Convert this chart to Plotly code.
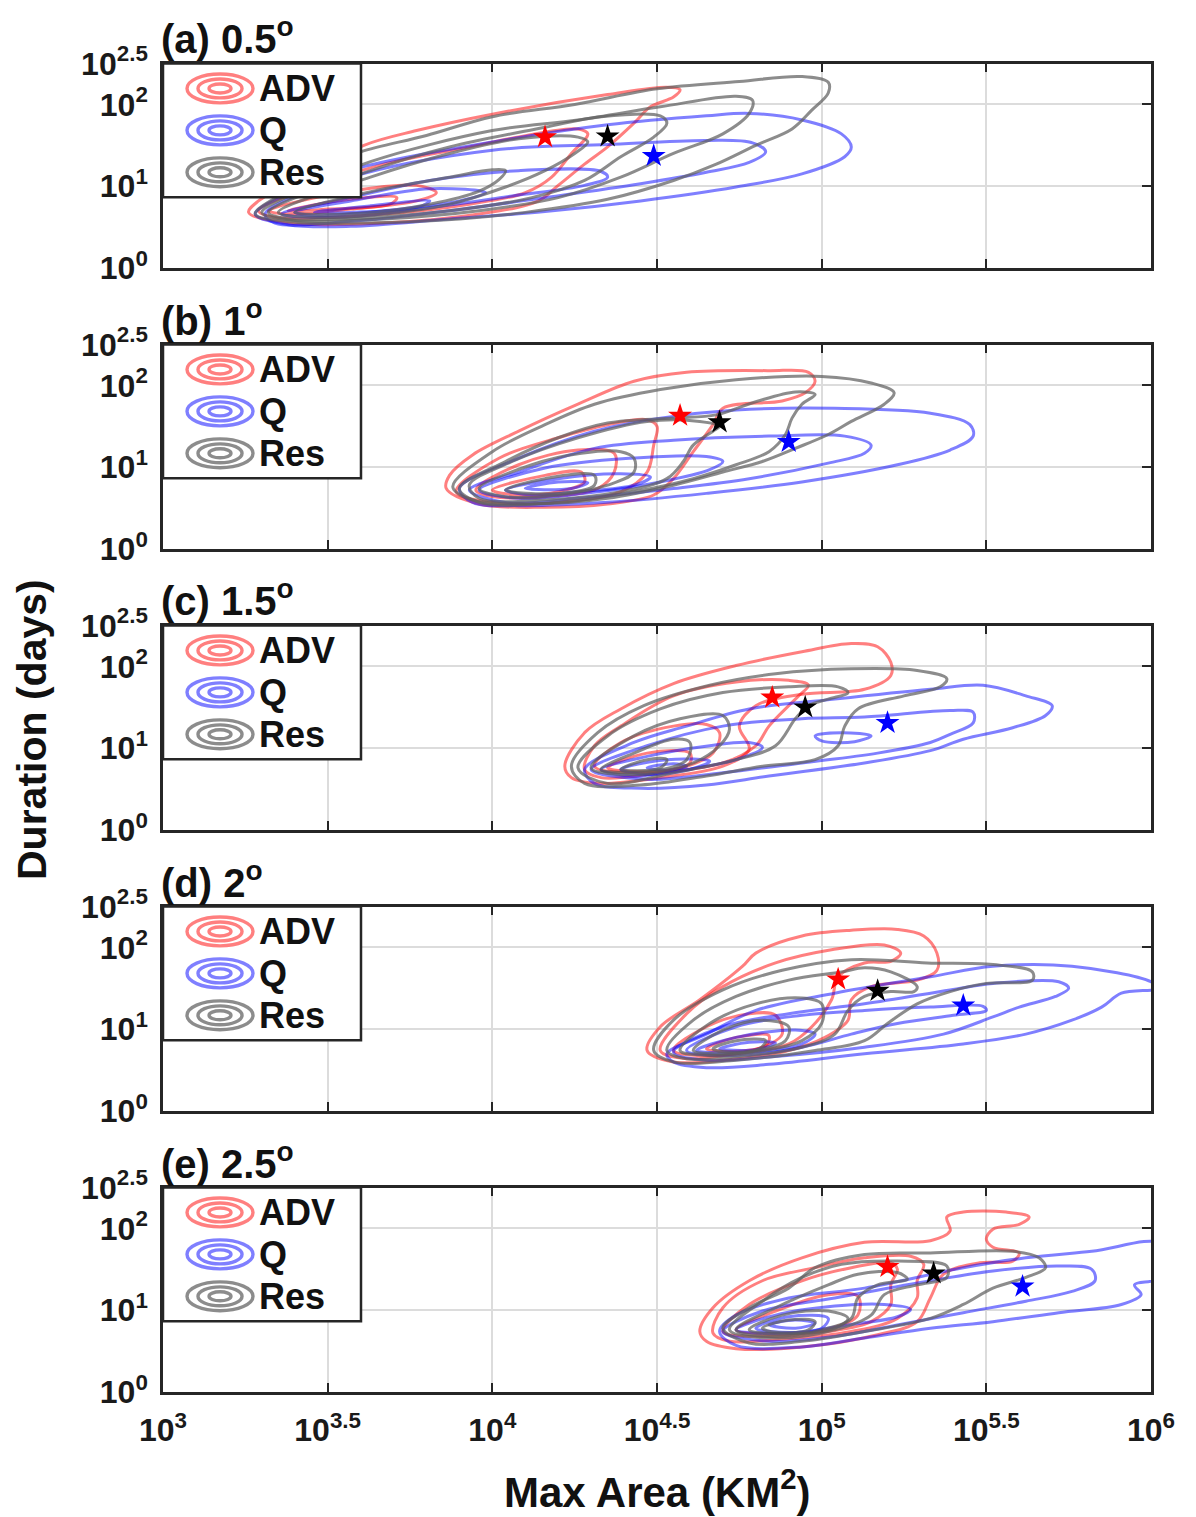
import plotly.graph_objects as go

# ---------------- tick / label data ----------------
X_TICK_EXP = [3, 3.5, 4, 4.5, 5, 5.5, 6]
X_TICK_TEXT = ["<b>10<sup>3</sup></b>", "<b>10<sup>3.5</sup></b>", "<b>10<sup>4</sup></b>",
               "<b>10<sup>4.5</sup></b>", "<b>10<sup>5</sup></b>", "<b>10<sup>5.5</sup></b>",
               "<b>10<sup>6</sup></b>"]
Y_TICK_EXP = [0, 1, 2, 2.5]
Y_TICK_TEXT = ["<b>10<sup>0</sup></b>", "<b>10<sup>1</sup></b>", "<b>10<sup>2</sup></b>",
               "<b>10<sup>2.5</sup></b>"]
PANEL_TITLES = ["(a) 0.5<sup>o</sup>", "(b) 1<sup>o</sup>", "(c) 1.5<sup>o</sup>",
                "(d) 2<sup>o</sup>", "(e) 2.5<sup>o</sup>"]
SERIES_NAMES = ["ADV", "Q", "Res"]

# ---------------- contour paths (log10 max area, log10 duration) ----------------
# panel (a) 0.5 deg
ADV_A = [
    [(3.26,0.68),(3.29,0.82),(3.42,1.11),(3.61,1.5),(3.77,1.68),(4.0,1.88),(4.35,2.12),(4.53,2.21),
     (4.57,2.18),(4.55,2.09),(4.48,1.97),(4.43,1.77),(4.35,1.48),(4.28,1.27),(4.2,1.01),(4.14,0.82),
     (3.96,0.66),(3.67,0.55),(3.38,0.55)],
    [(3.29,0.7),(3.48,1.03),(3.67,1.27),(3.93,1.48),(4.16,1.66),(4.26,1.7),(4.29,1.64),(4.24,1.4),
     (4.18,1.11),(4.1,0.92),(3.93,0.78),(3.67,0.66),(3.34,0.62)],
    [(3.32,0.7),(3.57,0.94),(3.77,1.01),(3.83,0.92),(3.77,0.82),(3.57,0.72),(3.38,0.66)],
    [(3.38,0.7),(3.57,0.84),(3.71,0.86),(3.69,0.78),(3.5,0.72)],
]
Q_A = [
    [(3.28,0.66),(3.4,0.95),(3.6,1.23),(4.0,1.54),(4.35,1.75),(4.65,1.86),(4.78,1.89),(4.94,1.81),
     (5.06,1.64),(5.09,1.48),(5.07,1.36),(4.94,1.15),(4.74,0.99),(4.45,0.82),(4.16,0.69),(3.87,0.6),
     (3.57,0.51),(3.38,0.53)],
    [(3.31,0.66),(3.57,1.11),(4.0,1.44),(4.35,1.51),(4.65,1.56),(4.79,1.53),(4.83,1.42),(4.78,1.29),
     (4.65,1.17),(4.45,1.03),(4.16,0.86),(3.87,0.7),(3.57,0.57),(3.34,0.55)],
    [(3.36,0.66),(3.57,0.86),(3.81,1.07),(4.08,1.19),(4.33,1.18),(4.35,1.11),(4.28,1.01),(4.06,0.88),
     (3.81,0.74),(3.54,0.62)],
    [(3.4,0.68),(3.57,0.82),(3.81,0.97),(3.98,0.92),(3.9,0.82),(3.67,0.7),(3.48,0.64)],
    [(3.46,0.68),(3.63,0.76),(3.81,0.82),(3.77,0.74),(3.57,0.68)],
]
RES_A = [
    [(3.28,0.66),(3.38,0.95),(3.5,1.25),(3.6,1.42),(3.8,1.62),(4.0,1.85),(4.25,2.0),(4.5,2.19),
     (4.75,2.28),(4.94,2.34),(5.02,2.27),(5.02,2.14),(4.97,1.93),(4.91,1.7),(4.8,1.5),(4.68,1.27),
     (4.55,1.07),(4.35,0.84),(4.1,0.68),(3.9,0.6),(3.6,0.55),(3.4,0.56)],
    [(3.3,0.68),(3.45,1.0),(3.63,1.3),(4.0,1.68),(4.26,1.81),(4.51,1.97),(4.74,2.1),(4.79,2.05),
     (4.78,1.89),(4.7,1.64),(4.55,1.4),(4.39,1.11),(4.2,0.86),(3.96,0.7),(3.67,0.6),(3.4,0.58)],
    [(3.32,0.68),(3.63,1.19),(3.87,1.48),(4.16,1.72),(4.33,1.85),(4.51,1.86),(4.53,1.77),(4.49,1.6),
     (4.39,1.36),(4.28,1.07),(4.12,0.86),(3.87,0.7),(3.55,0.6),(3.38,0.6)],
    [(3.35,0.68),(3.63,1.11),(3.87,1.4),(4.08,1.58),(4.26,1.6),(4.29,1.54),(4.25,1.4),(4.16,1.19),
     (4.04,0.99),(3.87,0.78),(3.67,0.66),(3.45,0.62)],
    [(3.4,0.68),(3.65,0.95),(3.87,1.11),(4.0,1.2),(4.04,1.19),(4.02,1.08),(3.96,0.94),(3.81,0.78),
     (3.6,0.67)],
]

# panel (b) 1 deg
ADV_B = [
    [(3.86,0.74),(3.87,0.9),(3.94,1.15),(4.08,1.44),(4.26,1.77),(4.43,2.05),(4.59,2.16),(4.84,2.18),
     (4.96,2.16),(4.98,2.05),(4.95,1.91),(4.88,1.81),(4.7,1.72),(4.67,1.52),(4.61,1.19),(4.55,0.86),
     (4.49,0.66),(4.35,0.55),(4.16,0.51),(3.96,0.55)],
    [(3.89,0.7),(4.02,1.11),(4.2,1.36),(4.35,1.52),(4.47,1.58),(4.5,1.5),(4.49,1.27),(4.47,0.94),
     (4.39,0.7),(4.2,0.57),(4.0,0.57)],
    [(3.95,0.72),(4.08,1.03),(4.26,1.21),(4.37,1.17),(4.37,0.94),(4.32,0.74),(4.16,0.64),(4.0,0.64)],
    [(4.0,0.72),(4.16,0.9),(4.27,0.94),(4.28,0.82),(4.2,0.7),(4.08,0.66)],
]
Q_B = [
    [(3.9,0.74),(4.08,1.11),(4.31,1.44),(4.51,1.6),(4.74,1.7),(5.04,1.72),(5.33,1.66),(5.45,1.52),
     (5.46,1.38),(5.39,1.21),(5.23,1.03),(4.94,0.82),(4.65,0.68),(4.35,0.57),(4.08,0.53),(3.94,0.57)],
    [(3.93,0.72),(4.08,0.94),(4.31,1.23),(4.55,1.33),(4.84,1.38),(5.07,1.38),(5.15,1.27),(5.13,1.17),
     (5.02,1.05),(4.78,0.86),(4.55,0.74),(4.26,0.62),(4.04,0.57)],
    [(3.96,0.72),(4.16,0.99),(4.42,1.11),(4.65,1.13),(4.7,1.07),(4.66,0.97),(4.51,0.82),(4.28,0.68),
     (4.08,0.62)],
    [(4.04,0.72),(4.2,0.86),(4.39,0.92),(4.48,0.88),(4.43,0.78),(4.26,0.7),(4.12,0.66)],
    [(4.1,0.74),(4.2,0.82),(4.29,0.81),(4.24,0.74)],
]
RES_B = [
    [(3.88,0.76),(4.0,1.19),(4.16,1.52),(4.31,1.77),(4.51,1.95),(4.74,2.07),(5.0,2.11),(5.15,2.03),
     (5.22,1.91),(5.19,1.77),(5.09,1.56),(5.02,1.4),(4.92,1.23),(4.82,1.07),(4.7,0.94),(4.55,0.78),
     (4.35,0.62),(4.12,0.55),(3.94,0.6)],
    [(3.9,0.74),(4.04,1.07),(4.2,1.36),(4.35,1.54),(4.55,1.6),(4.68,1.64),(4.8,1.8),(4.92,1.92),
     (4.98,1.89),(4.94,1.77),(4.91,1.6),(4.89,1.4),(4.84,1.19),(4.74,1.03),(4.61,0.86),(4.43,0.7),
     (4.2,0.57),(3.96,0.57)],
    [(3.93,0.78),(4.06,1.07),(4.26,1.36),(4.47,1.56),(4.63,1.56),(4.69,1.5),(4.67,1.44),(4.61,1.27),
     (4.58,1.07),(4.53,0.86),(4.39,0.7),(4.16,0.6),(3.96,0.62)],
    [(3.96,0.74),(4.12,1.03),(4.27,1.17),(4.39,1.19),(4.43,1.11),(4.43,0.94),(4.35,0.78),(4.2,0.66),
     (4.04,0.64)],
    [(4.04,0.72),(4.16,0.86),(4.31,0.9),(4.31,0.78),(4.2,0.68)],
]

# panel (c) 1.5 deg
ADV_C = [
    [(4.22,0.78),(4.28,1.19),(4.39,1.48),(4.55,1.79),(4.74,2.01),(4.94,2.18),(5.09,2.28),(5.17,2.24),
     (5.21,2.05),(5.21,1.89),(5.13,1.72),(4.94,1.66),(4.8,1.52),(4.75,1.27),(4.78,0.99),(4.7,0.78),
     (4.51,0.64),(4.32,0.57),(4.24,0.64)],
    [(4.28,0.74),(4.31,1.03),(4.39,1.27),(4.55,1.64),(4.74,1.81),(4.9,1.83),(4.96,1.77),(4.93,1.64),
     (4.9,1.52),(4.84,1.27),(4.8,1.03),(4.7,0.82),(4.51,0.7),(4.33,0.64)],
    [(4.31,0.78),(4.39,1.07),(4.55,1.27),(4.65,1.29),(4.69,1.19),(4.67,0.94),(4.59,0.78),(4.45,0.7)],
    [(4.35,0.76),(4.47,0.94),(4.6,0.94),(4.6,0.82),(4.51,0.72)],
]
Q_C = [
    [(4.28,0.74),(4.43,1.07),(4.59,1.27),(4.78,1.48),(5.04,1.6),(5.33,1.72),(5.49,1.77),(5.62,1.64),
     (5.7,1.52),(5.68,1.4),(5.58,1.25),(5.43,1.11),(5.33,0.97),(5.13,0.82),(4.84,0.66),(4.65,0.55),
     (4.45,0.51),(4.31,0.57)],
    [(4.3,0.74),(4.47,1.03),(4.7,1.27),(4.94,1.36),(5.13,1.38),(5.39,1.46),(5.46,1.44),(5.46,1.31),
     (5.39,1.17),(5.33,1.07),(5.17,0.94),(4.94,0.82),(4.7,0.7),(4.47,0.62)],
    [(4.98,1.15),(5.06,1.19),(5.15,1.15),(5.1,1.08),(5.0,1.09)],
    [(4.33,0.74),(4.47,0.9),(4.66,1.03),(4.78,1.07),(4.82,1.01),(4.74,0.86),(4.59,0.74),(4.43,0.66)],
    [(4.39,0.74),(4.53,0.86),(4.66,0.84),(4.6,0.74),(4.47,0.68)],
    [(4.47,0.76),(4.55,0.81),(4.59,0.78),(4.53,0.73)],
]
RES_C = [
    [(4.24,0.78),(4.32,1.19),(4.46,1.52),(4.66,1.77),(4.86,1.91),(5.09,1.97),(5.29,1.95),(5.38,1.85),
     (5.36,1.75),(5.25,1.64),(5.11,1.48),(5.07,1.27),(5.05,1.03),(4.98,0.86),(4.82,0.78),(4.65,0.66),
     (4.45,0.55),(4.28,0.57)],
    [(4.26,0.76),(4.35,1.15),(4.51,1.48),(4.7,1.68),(4.9,1.75),(5.05,1.75),(5.08,1.68),(5.02,1.6),
     (4.96,1.52),(4.92,1.36),(4.86,1.03),(4.74,0.86),(4.55,0.7),(4.35,0.57)],
    [(4.3,0.76),(4.43,1.15),(4.57,1.36),(4.7,1.4),(4.72,1.23),(4.69,1.03),(4.61,0.82),(4.45,0.68)],
    [(4.33,0.74),(4.43,0.94),(4.55,1.11),(4.6,1.07),(4.59,0.86),(4.49,0.72)],
    [(4.39,0.74),(4.47,0.86),(4.53,0.86),(4.51,0.76)],
]

# panel (d) 2 deg
ADV_D = [
    [(4.47,0.74),(4.51,1.03),(4.63,1.36),(4.76,1.77),(4.8,1.93),(4.94,2.14),(5.09,2.21),(5.23,2.22),
     (5.31,2.14),(5.35,1.93),(5.35,1.72),(5.29,1.6),(5.15,1.52),(5.09,1.36),(5.08,1.11),(5.01,0.9),
     (4.9,0.74),(4.7,0.62),(4.55,0.6)],
    [(4.51,0.74),(4.59,1.19),(4.7,1.52),(4.86,1.81),(5.03,1.97),(5.19,2.03),(5.24,1.93),(5.21,1.83),
     (5.13,1.81),(5.05,1.64),(5.03,1.36),(4.97,1.03),(4.9,0.82),(4.74,0.7),(4.59,0.64)],
    [(4.55,0.74),(4.65,1.03),(4.78,1.19),(4.86,1.17),(4.88,0.94),(4.82,0.78),(4.68,0.68)],
    [(4.65,0.76),(4.74,0.9),(4.84,0.92),(4.83,0.8),(4.74,0.73)],
]
Q_D = [
    [(4.53,0.7),(4.65,0.94),(4.8,1.23),(5.04,1.44),(5.33,1.64),(5.52,1.77),(5.76,1.77),(6.0,1.58),
     (6.02,1.5),(5.91,1.44),(5.85,1.27),(5.76,1.11),(5.62,0.94),(5.43,0.82),(5.13,0.7),(4.84,0.57),
     (4.65,0.53),(4.55,0.6)],
    [(4.55,0.72),(4.7,1.03),(4.9,1.19),(5.13,1.31),(5.39,1.48),(5.52,1.56),(5.72,1.58),(5.75,1.5),
     (5.71,1.4),(5.6,1.27),(5.52,1.15),(5.37,0.94),(5.13,0.78),(4.84,0.66),(4.65,0.62)],
    [(4.59,0.74),(4.74,1.03),(4.94,1.17),(5.13,1.23),(5.33,1.27),(5.49,1.28),(5.5,1.23),(5.4,1.17),
     (5.23,1.07),(5.09,0.94),(4.94,0.78),(4.74,0.68)],
    [(4.62,0.74),(4.74,0.9),(4.92,0.99),(4.98,0.94),(4.94,0.82),(4.78,0.72)],
    [(4.69,0.76),(4.78,0.84),(4.86,0.83),(4.8,0.75)],
]
RES_D = [
    [(4.49,0.74),(4.55,1.11),(4.7,1.48),(4.88,1.72),(5.09,1.85),(5.32,1.81),(5.52,1.79),(5.64,1.7),
     (5.64,1.6),(5.5,1.56),(5.39,1.46),(5.29,1.31),(5.2,1.07),(5.13,0.86),(4.98,0.74),(4.74,0.62),
     (4.55,0.6)],
    [(4.53,0.74),(4.61,1.11),(4.74,1.4),(4.9,1.6),(5.06,1.7),(5.13,1.75),(5.21,1.7),(5.29,1.52),
     (5.28,1.46),(5.21,1.46),(5.13,1.4),(5.08,1.23),(5.04,0.94),(4.94,0.78),(4.74,0.66),(4.59,0.64)],
    [(4.57,0.74),(4.66,1.07),(4.8,1.31),(4.94,1.38),(5.0,1.31),(5.0,1.07),(4.94,0.86),(4.8,0.72),
     (4.66,0.68)],
    [(4.61,0.74),(4.7,0.99),(4.82,1.11),(4.9,1.03),(4.89,0.86),(4.8,0.74),(4.69,0.7)],
    [(4.67,0.76),(4.74,0.86),(4.83,0.86),(4.81,0.76),(4.72,0.72)],
]

# panel (e) 2.5 deg
ADV_E = [
    [(4.63,0.74),(4.67,1.03),(4.78,1.36),(4.94,1.64),(5.13,1.83),(5.33,1.85),(5.39,1.97),(5.38,2.14),
     (5.43,2.2),(5.56,2.2),(5.63,2.14),(5.6,2.05),(5.52,1.99),(5.5,1.87),(5.52,1.77),(5.6,1.7),
     (5.58,1.6),(5.48,1.58),(5.37,1.44),(5.33,1.15),(5.29,0.86),(5.17,0.7),(4.94,0.55),(4.74,0.53),
     (4.65,0.62)],
    [(4.67,0.72),(4.7,1.03),(4.82,1.36),(4.98,1.52),(5.13,1.64),(5.27,1.66),(5.31,1.56),(5.29,1.36),
     (5.29,1.15),(5.23,0.9),(5.09,0.74),(4.86,0.64),(4.72,0.62)],
    [(4.7,0.74),(4.78,1.07),(4.94,1.36),(5.09,1.52),(5.21,1.58),(5.23,1.5),(5.21,1.31),(5.21,1.07),
     (5.15,0.86),(5.02,0.74),(4.82,0.68)],
    [(4.74,0.76),(4.86,0.99),(5.02,1.19),(5.11,1.17),(5.11,0.94),(5.03,0.78),(4.86,0.71)],
]
Q_E = [
    [(4.69,0.74),(4.74,0.94),(4.9,1.15),(5.13,1.27),(5.43,1.52),(5.62,1.64),(5.82,1.72),(6.03,1.81),
     (6.03,1.4),(5.95,1.31),(5.97,1.19),(5.91,1.07),(5.72,0.97),(5.52,0.86),(5.33,0.78),(5.13,0.66),
     (4.94,0.55),(4.74,0.57)],
    [(4.7,0.74),(4.82,0.99),(5.04,1.15),(5.33,1.36),(5.52,1.48),(5.72,1.54),(5.82,1.5),(5.83,1.36),
     (5.76,1.23),(5.62,1.11),(5.43,0.97),(5.23,0.82),(5.04,0.68),(4.84,0.62)],
    [(4.74,0.76),(4.86,0.94),(5.04,1.05),(5.19,1.07),(5.27,1.01),(5.23,0.92),(5.08,0.82),(4.9,0.72)],
    [(4.8,0.78),(4.9,0.92),(5.02,0.9),(5.0,0.78),(4.88,0.73)],
    [(4.84,0.82),(4.92,0.88),(4.98,0.84),(4.92,0.78)],
]
RES_E = [
    [(4.7,0.78),(4.78,1.03),(4.9,1.27),(4.98,1.52),(5.13,1.68),(5.33,1.7),(5.58,1.72),(5.66,1.64),
     (5.68,1.52),(5.62,1.4),(5.52,1.27),(5.43,1.07),(5.33,0.9),(5.13,0.74),(4.94,0.62),(4.78,0.6)],
    [(4.72,0.76),(4.82,1.11),(4.94,1.4),(5.06,1.56),(5.23,1.6),(5.38,1.54),(5.38,1.4),(5.29,1.31),
     (5.19,1.19),(5.15,0.94),(5.04,0.76),(4.86,0.66)],
    [(4.74,0.76),(4.86,1.03),(5.02,1.31),(5.11,1.44),(5.23,1.46),(5.26,1.38),(5.17,1.31),(5.11,1.15),
     (5.09,0.9),(5.0,0.76),(4.84,0.68)],
    [(4.78,0.76),(4.88,0.94),(5.02,0.99),(5.08,0.9),(5.04,0.78),(4.9,0.71)],
    [(4.82,0.78),(4.9,0.88),(4.98,0.86),(4.96,0.76),(4.86,0.73)],
]

# mean markers (stars): log10 area, log10 duration, one per panel
STAR_ADV_LX = [4.16, 4.57, 4.85, 5.05, 5.20]
STAR_ADV_LY = [1.60, 1.63, 1.62, 1.61, 1.53]
STAR_RES_LX = [4.35, 4.69, 4.95, 5.17, 5.34]
STAR_RES_LY = [1.61, 1.55, 1.50, 1.47, 1.45]
STAR_Q_LX = [4.49, 4.90, 5.20, 5.43, 5.61]
STAR_Q_LY = [1.37, 1.31, 1.31, 1.29, 1.29]

PANELS = [
    (ADV_A, Q_A, RES_A),
    (ADV_B, Q_B, RES_B),
    (ADV_C, Q_C, RES_C),
    (ADV_D, Q_D, RES_D),
    (ADV_E, Q_E, RES_E),
]

# ---------------- styling ----------------
LINE_COLORS = ["rgba(255,0,0,0.5)", "rgba(0,0,255,0.5)", "rgba(95,95,95,0.72)"]
STAR_COLORS = {"ADV": "#ff0000", "Res": "#000000", "Q": "#0000ff"}
FONT = "Liberation Sans, Arial, Helvetica, sans-serif"
AX_COLOR = "#262626"
OFF = 8  # page body margin offset of the rendered figure
W, H = 1196 - OFF, 1517 - OFF
PX_L, PX_R = 163 - OFF, 1151 - OFF
PANEL_TOP0, PANEL_BOT0, PANEL_STEP = 63.5 - OFF, 268.0 - OFF, 281.0

fig = go.Figure()
layout_axes = {}
shapes = []
annotations = []

for i, series in enumerate(PANELS):
    n = "" if i == 0 else str(i + 1)
    xa, ya = "x" + n, "y" + n
    top = PANEL_TOP0 + PANEL_STEP * i
    bot = PANEL_BOT0 + PANEL_STEP * i
    last = (i == len(PANELS) - 1)

    for s_idx, contours in enumerate(series):
        for c in contours:
            pts = list(c) + [c[0]]
            fig.add_trace(go.Scatter(
                x=[10 ** p[0] for p in pts], y=[10 ** p[1] for p in pts],
                mode="lines", xaxis=xa, yaxis=ya, showlegend=False, hoverinfo="skip",
                line=dict(color=LINE_COLORS[s_idx], width=3, shape="spline", smoothing=1.0)))

    for lx, ly, col in ((STAR_ADV_LX, STAR_ADV_LY, STAR_COLORS["ADV"]),
                        (STAR_RES_LX, STAR_RES_LY, STAR_COLORS["Res"]),
                        (STAR_Q_LX, STAR_Q_LY, STAR_COLORS["Q"])):
        fig.add_trace(go.Scatter(
            x=[10 ** lx[i]], y=[10 ** ly[i]], mode="markers", xaxis=xa, yaxis=ya,
            showlegend=False, hoverinfo="skip",
            marker=dict(symbol="star", size=18, color=col, line=dict(width=0))))

    layout_axes["xaxis" + n] = dict(
        type="log", range=[3, 6], domain=[PX_L / W, PX_R / W], anchor=ya, automargin=False,
        tickvals=[10 ** v for v in X_TICK_EXP], ticktext=X_TICK_TEXT,
        showticklabels=last, ticks="inside", ticklen=9, tickwidth=2, tickcolor=AX_COLOR,
        showline=True, linecolor=AX_COLOR, linewidth=2.5, mirror="allticks",
        showgrid=True, gridcolor="#dcdcdc", gridwidth=2, zeroline=False,
        tickfont=dict(family=FONT, size=32, color="#1a1a1a"), ticklabelstandoff=8)
    layout_axes["yaxis" + n] = dict(
        type="log", range=[0, 2.5], domain=[1 - bot / H, 1 - top / H], anchor=xa, automargin=False,
        tickvals=[10 ** v for v in Y_TICK_EXP], ticktext=Y_TICK_TEXT,
        ticks="inside", ticklen=9, tickwidth=2, tickcolor=AX_COLOR,
        showline=True, linecolor=AX_COLOR, linewidth=2.5, mirror="allticks",
        showgrid=True, gridcolor="#dcdcdc", gridwidth=2, zeroline=False,
        tickfont=dict(family=FONT, size=32, color="#1a1a1a"), ticklabelstandoff=6)

    # panel title
    annotations.append(dict(
        text="<b>" + PANEL_TITLES[i] + "</b>", xref="paper", yref="paper",
        x=(PX_L - 4) / W, y=1 - (top - 27) / H, xanchor="left", yanchor="middle",
        showarrow=False, font=dict(family=FONT, size=40, color="#111111")))

    # legend box (drawn per panel, top-left inside the axes)
    xd, yd = xa + " domain", ya + " domain"
    shapes.append(dict(type="rect", xref=xd, yref=yd, x0=0, x1=0.2004, y0=0.346, y1=1,
                       fillcolor="white", line=dict(color=AX_COLOR, width=2.5), layer="above"))
    entry_y = [0.878, 0.673, 0.468]
    for s_idx, name in enumerate(SERIES_NAMES):
        cy = entry_y[s_idx]
        for hw, hh in ((0.0334, 0.0707), (0.0223, 0.0463), (0.0111, 0.022)):
            shapes.append(dict(type="circle", xref=xd, yref=yd,
                               x0=0.0577 - hw, x1=0.0577 + hw, y0=cy - hh, y1=cy + hh,
                               line=dict(color=LINE_COLORS[s_idx], width=3.4), layer="above"))
        annotations.append(dict(
            text="<b>" + name + "</b>", xref=xd, yref=yd, x=0.095, y=cy,
            xanchor="left", yanchor="middle", showarrow=False,
            font=dict(family=FONT, size=36, color="#111111")))

# axis titles
annotations.append(dict(
    text="<b>Duration (days)</b>", xref="paper", yref="paper", x=(32 - OFF) / W,
    y=1 - (730 - OFF) / H, xanchor="center", yanchor="middle", textangle=-90, showarrow=False,
    font=dict(family=FONT, size=41, color="#111111")))
annotations.append(dict(
    text="<b>Max Area (KM<sup>2</sup>)</b>", xref="paper", yref="paper",
    x=(PX_L + PX_R) / 2 / W, y=1 - (1489 - OFF) / H, xanchor="center", yanchor="middle",
    showarrow=False, font=dict(family=FONT, size=42, color="#111111")))

fig.update_layout(
    width=W, height=H, margin=dict(l=0, r=0, t=0, b=0),
    paper_bgcolor="white", plot_bgcolor="white",
    showlegend=False, shapes=shapes, annotations=annotations,
    font=dict(family=FONT), **layout_axes)

fig.write_html("out.html")
